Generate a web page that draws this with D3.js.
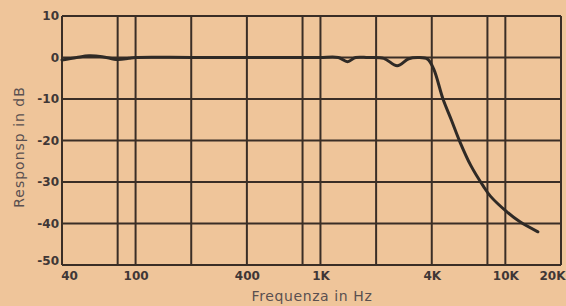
<!DOCTYPE html>
<html>
<head>
<meta charset="utf-8">
<script src="https://cdn.jsdelivr.net/npm/d3@7"></script>
<style>
  body { margin: 0; background: #efc59a; }
  svg { display: block; }
</style>
</head>
<body>
<svg class="chart"></svg>
<script>
// response curve
var freqs = [40, 48, 56, 66, 80, 92, 100, 200, 400, 800, 1000, 1250, 1400, 1550, 1800, 2200, 2600, 3000, 3400, 3800, 4100, 4600, 5100, 5700, 6500, 7600, 8300, 10200, 12000, 15000];
var dbs   = [-0.6, 0, 0.4, 0.2, -0.5, -0.2, 0, 0, 0, 0, 0, 0, -1, 0, 0, -0.2, -2, -0.3, 0, -0.4, -2.8, -10, -15, -20.5, -26, -31, -33.4, -37.2, -39.6, -42];

var gridFreqs = [40, 80, 100, 200, 400, 800, 1000, 2000, 4000, 8000, 10000, 20000];
var labelFreqs = [40, 100, 400, 1000, 4000, 10000, 20000];
var labelText = ["40", "100", "400", "1K", "4K", "10K", "20K"];
var dbTicks = [10, 0, -10, -20, -30, -40, -50];

var width = 566, height = 306;
var svg = d3.select(".chart").attr("width", width).attr("height", height);

var x = d3.scaleLog().domain([40, 20000]).range([62, 561]);
var y = d3.scaleLinear().domain([-50, 10]).range([265, 16]);

var ink = "#3a2e26";
var textInk = "#3f3736";

// grid
svg.append("g").selectAll("line")
  .data(gridFreqs).enter().append("line")
  .attr("x1", function(d){ return x(d); })
  .attr("x2", function(d){ return x(d); })
  .attr("y1", y(10)).attr("y2", y(-50))
  .attr("stroke", ink).attr("stroke-width", 2);

svg.append("g").selectAll("line")
  .data(dbTicks).enter().append("line")
  .attr("x1", x(40)).attr("x2", x(20000))
  .attr("y1", function(d){ return y(d); })
  .attr("y2", function(d){ return y(d); })
  .attr("stroke", ink).attr("stroke-width", 2);

// y labels
var yAxis = d3.axisLeft(y).tickValues(dbTicks).tickSize(0).tickPadding(3)
  .tickFormat(function(d){ return d < 0 ? "-" + Math.abs(d) : d; });
var gy = svg.append("g").attr("transform", "translate(" + x(40) + ",0)").call(yAxis);
gy.select(".domain").remove();
gy.selectAll("text")
  .attr("fill", textInk)
  .style("font-family", "'DejaVu Sans', sans-serif")
  .style("font-weight", "bold")
  .style("font-size", "12px");
// bottom label is lifted above the corner
gy.selectAll(".tick").filter(function(d){ return d === -50; }).select("text")
  .attr("y", -4);

// x labels
var xAxis = d3.axisBottom(x).tickValues(labelFreqs).tickSize(0).tickPadding(6)
  .tickFormat(function(d, i){ return labelText[i]; });
var gx = svg.append("g").attr("transform", "translate(0," + y(-50) + ")").call(xAxis);
gx.select(".domain").remove();
gx.selectAll("text")
  .attr("fill", textInk)
  .style("font-family", "'DejaVu Sans', sans-serif")
  .style("font-weight", "bold")
  .style("font-size", "12px");
gx.selectAll(".tick").filter(function(d){ return d === 40; }).select("text")
  .attr("x", 7);
// last label sits flush with the right edge
gx.selectAll(".tick").filter(function(d){ return d === 20000; }).select("text")
  .attr("text-anchor", "end").attr("x", 4);

// axis titles
svg.append("text")
  .attr("x", 312).attr("y", 301)
  .attr("text-anchor", "middle")
  .attr("fill", "#5a5050")
  .style("font-family", "'DejaVu Sans', sans-serif")
  .style("font-size", "14px")
  .style("letter-spacing", "0.6px")
  .text("Frequenza in Hz");

svg.append("text")
  .attr("transform", "translate(24,147) rotate(-90)")
  .attr("text-anchor", "middle")
  .attr("fill", "#5a5050")
  .style("font-family", "'DejaVu Sans', sans-serif")
  .style("font-size", "14px")
  .style("letter-spacing", "1px")
  .text("Responsp in dB");

// curve
var line = d3.line()
  .x(function(d, i){ return x(freqs[i]); })
  .y(function(d){ return y(d); })
  .curve(d3.curveCatmullRom.alpha(0.5));

svg.append("path")
  .datum(dbs)
  .attr("d", line)
  .attr("fill", "none")
  .attr("stroke", "#2f2a26")
  .attr("stroke-width", 3)
  .attr("stroke-linecap", "round");
</script>
</body>
</html>
